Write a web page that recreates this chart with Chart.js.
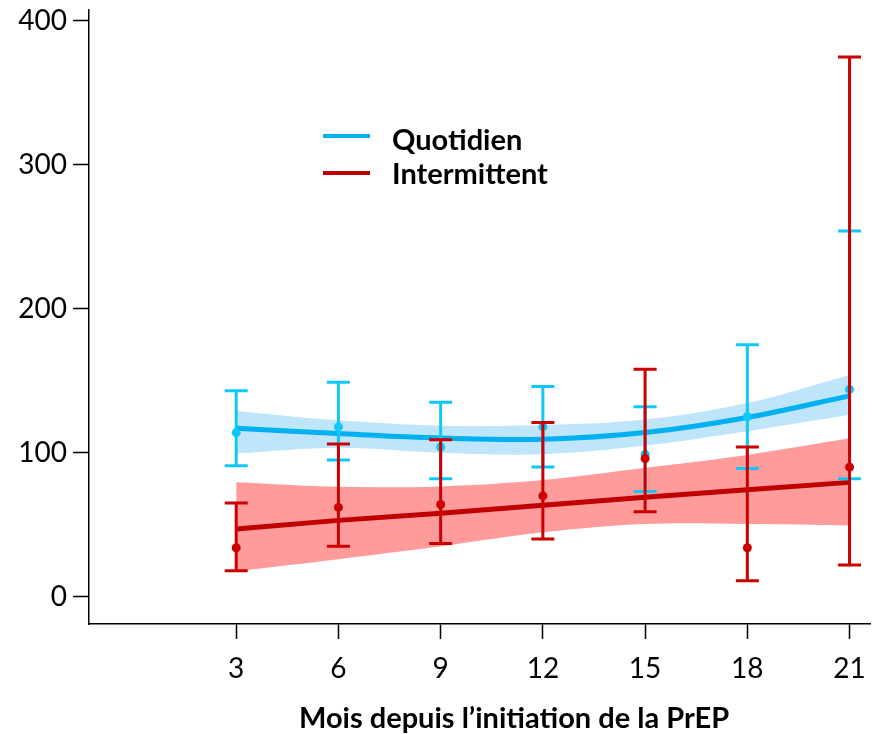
<!DOCTYPE html>
<html><head><meta charset="utf-8">
<script src="https://cdn.jsdelivr.net/npm/chart.js@4.4.1/dist/chart.umd.min.js"></script>
<style>
body{margin:0;background:#fff}
#wrap{position:relative;width:877px;height:734px}
.lgl{position:absolute;left:323px;width:47px;height:4px}
.lgt{position:absolute;left:392px;font:bold 29px Lato, sans-serif;line-height:29px;color:#000;white-space:nowrap}
#xt{position:absolute;left:514px;top:702px;transform:translateX(-50%);font:bold 29px Lato, sans-serif;line-height:29px;color:#000;white-space:nowrap}
</style></head>
<body><div id="wrap"><canvas id="c" width="877" height="734"></canvas>
<div class="lgl" style="top:134px;background:#00B0F0"></div>
<div class="lgt" style="top:124px">Quotidien</div>
<div class="lgl" style="top:171px;background:#C00000"></div>
<div class="lgt" style="top:158px">Intermittent</div>
<div id="xt"></div>
</div>
<script>
const xTitle = 'Mois depuis l\u2019initiation de la PrEP';
const months = [3, 6, 9, 12, 15, 18, 21];
const yTicks = [0, 100, 200, 300, 400];
// Quotidien (daily)
const quotMean = [114, 118, 104, 118, 99, 125, 144];
const quotLow  = [91, 95, 82, 90, 73, 89, 82];
const quotHigh = [143, 149, 135, 146, 132, 175, 254];
const quotFit      = [117, 113.3, 110.2, 109.3, 114, 124.5, 139.5];
const quotBandHigh = [129, 122.5, 118.8, 119.2, 123, 134.5, 154];
const quotBandLow  = [99.5, 103.5, 100, 99, 105, 115, 126.4];
// Intermittent
const interMean = [34, 62, 64, 70, 96, 34, 90];
const interLow  = [18, 35, 37, 40, 59, 11, 22];
const interHigh = [65, 106, 109, 121, 158, 104, 375];
const interFit      = [47, 53, 58, 63.5, 69, 74.3, 79.4];
const interBandHigh = [79.4, 76.3, 76.6, 81, 89.5, 98.5, 110];
const interBandLow  = [17.6, 26, 35, 44.7, 50.5, 50.5, 49.5];

document.getElementById('xt').textContent = xTitle;

const pts = a => months.map((m, i) => ({x: m, y: a[i]}));
const BLUE_BAR = '#10C8F8', BLUE_FIT = '#00B0F0', BLUE_BAND = '#BEE5FA';
const RED_BAR = '#CC0000', RED_FIT = '#C00000', RED_BAND = '#FF9B9B';

const errorBars = {
  id: 'errorBars',
  beforeDatasetDraw(chart, args) {
    const ds = chart.data.datasets[args.index];
    if (!ds.errLow) return;
    const {ctx, scales: {x, y}} = chart;
    ctx.save();
    ctx.strokeStyle = ds.errColor;
    ctx.lineWidth = 3;
    months.forEach((m, i) => {
      const px = x.getPixelForValue(m);
      const yl = y.getPixelForValue(ds.errLow[i]);
      const yh = y.getPixelForValue(ds.errHigh[i]);
      ctx.beginPath();
      ctx.moveTo(px, yl); ctx.lineTo(px, yh);
      ctx.moveTo(px - 11.5, yl); ctx.lineTo(px + 11.5, yl);
      ctx.moveTo(px - 11.5, yh); ctx.lineTo(px + 11.5, yh);
      ctx.stroke();
    });
    ctx.restore();
  }
};

const bandDs = (data, color, fill, order) => ({
  type: 'line', data: pts(data), borderWidth: 0, pointRadius: 0,
  backgroundColor: color, fill: fill, tension: 0.35, order
});

new Chart(document.getElementById('c'), {
  type: 'line',
  data: {
    datasets: [
      bandDs(quotBandHigh, BLUE_BAND, '+1', 9),
      bandDs(quotBandLow, BLUE_BAND, false, 8),
      bandDs(interBandHigh, RED_BAND, '+1', 7),
      bandDs(interBandLow, RED_BAND, false, 6),
      {label: 'Quotidien', data: pts(quotFit), borderColor: BLUE_FIT, borderWidth: 5, pointRadius: 0,
       fill: false, tension: 0.35, order: 4},
      {label: 'Intermittent', data: pts(interFit), borderColor: RED_FIT, borderWidth: 5, pointRadius: 0,
       fill: false, tension: 0, order: 3},
      {label: 'Quotidien obs', data: pts(quotMean), showLine: false, pointRadius: 4.5, pointBorderWidth: 0,
       pointBackgroundColor: BLUE_BAR, errLow: quotLow, errHigh: quotHigh, errColor: BLUE_BAR, order: 2},
      {label: 'Intermittent obs', data: pts(interMean), showLine: false, pointRadius: 4.5, pointBorderWidth: 0,
       pointBackgroundColor: RED_BAR, errLow: interLow, errHigh: interHigh, errColor: RED_BAR, order: 1}
    ]
  },
  options: {
    responsive: false, animation: false,
    layout: {padding: {top: 10, right: 7, left: 0, bottom: 0}},
    plugins: {legend: {display: false}, tooltip: {enabled: false}},
    scales: {
      x: {
        type: 'linear', min: -1.32, max: 21.6,
        afterBuildTicks: s => { s.ticks = months.map(v => ({value: v})); },
        afterFit: s => { s.height = 110; s.paddingLeft = 0; s.paddingRight = 0; },
        grid: {drawOnChartArea: false, drawTicks: true, tickLength: 15, tickColor: '#000', tickWidth: 1.5},
        border: {display: true, color: '#000', width: 1.5},
        ticks: {color: '#000', font: {family: 'Lato', size: 28}, padding: 13, maxRotation: 0},
        title: {display: false, text: xTitle}
      },
      y: {
        min: -19, max: 407.6,
        afterBuildTicks: s => { s.ticks = yTicks.map(v => ({value: v})); },
        afterFit: s => { s.width = 89; s.paddingTop = 0; s.paddingBottom = 0; },
        grid: {drawOnChartArea: false, drawTicks: true, tickLength: 16, tickColor: '#000', tickWidth: 1.5},
        border: {display: true, color: '#000', width: 1.5},
        ticks: {color: '#000', font: {family: 'Lato', size: 28}, padding: 6}
      }
    }
  },
  plugins: [errorBars]
});
</script>
</body></html>
